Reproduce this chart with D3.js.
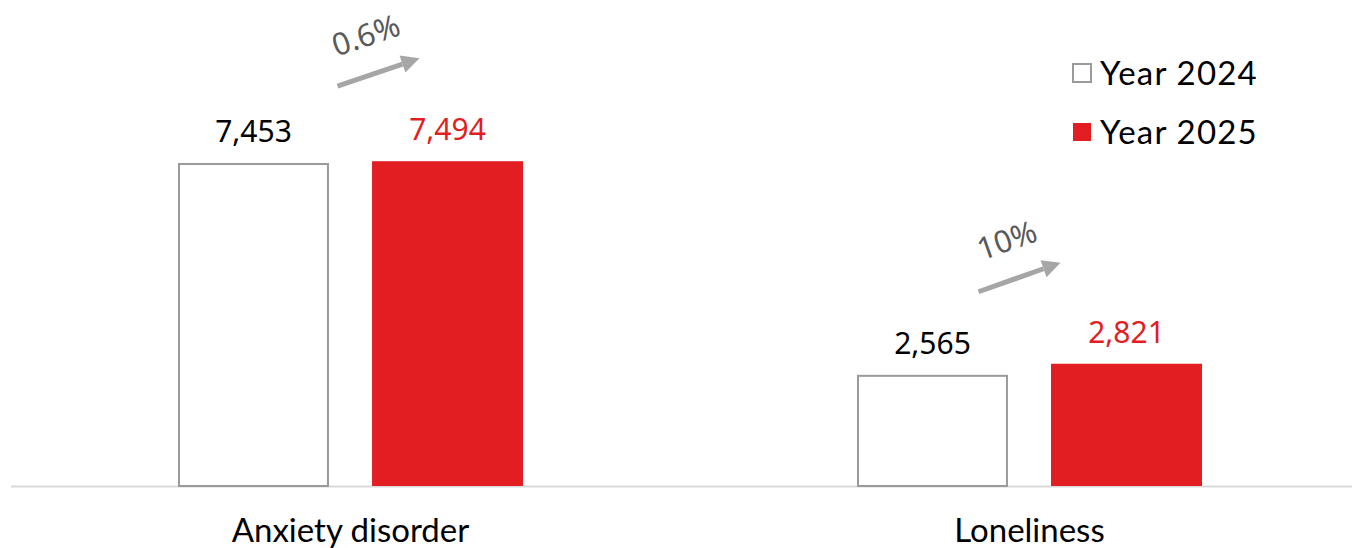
<!DOCTYPE html>
<html><head><meta charset="utf-8">
<script src="https://cdn.jsdelivr.net/npm/d3@7"></script>
<style>html,body{margin:0;padding:0;background:#fff;}svg{display:block;}</style>
</head><body>
<svg id="c" width="1352" height="548"></svg>
<script>
const categories = ["Anxiety disorder", "Loneliness"];
const seriesNames = ["Year 2024", "Year 2025"];
const values2024 = [7453, 2565];
const values2025 = [7494, 2821];
const changeLabels = ["0.6%", "10%"];

const W = 1352, H = 548;
const svg = d3.select("#c");
const baseY = 486;
const y = d3.scaleLinear().domain([0, 8000]).range([baseY, baseY - 8000 * 0.04334]);
const x0 = d3.scaleBand().domain(categories).range([11, 1369]).padding(0);
const x1 = d3.scaleBand().domain(seriesNames).range([0, 345]).paddingInner(0.222).paddingOuter(0);
const groupOff = (x0.bandwidth() - 345) / 2;

const data = categories.map((c, i) => ({cat: c, vals: [values2024[i], values2025[i]]}));
const colors = {"Year 2024": "#ffffff", "Year 2025": "#e21e23"};
const strokes = {"Year 2024": "#9a9a9a", "Year 2025": "none"};
const labelColors = {"Year 2024": "#000000", "Year 2025": "#e21e23"};

// axis baseline
svg.append("line").attr("x1", 11).attr("x2", W).attr("y1", baseY + 0.5).attr("y2", baseY + 0.5)
  .attr("stroke", "#d9d9d9").attr("stroke-width", 2);

const g = svg.selectAll("g.grp").data(data).join("g")
  .attr("transform", d => `translate(${x0(d.cat) + groupOff},0)`);

g.selectAll("rect").data(d => d.vals.map((v, j) => ({s: seriesNames[j], v}))).join("rect")
  .attr("x", d => x1(d.s) + (d.s === "Year 2024" ? 1 : 0))
  .attr("y", d => y(d.v) + (d.s === "Year 2024" ? 1 : 0))
  .attr("width", d => x1.bandwidth() - (d.s === "Year 2024" ? 2 : 0))
  .attr("height", d => baseY - y(d.v) - (d.s === "Year 2024" ? 1 : 0))
  .attr("fill", d => colors[d.s]).attr("stroke", d => strokes[d.s]).attr("stroke-width", 2);

g.selectAll("text.val").data(d => d.vals.map((v, j) => ({s: seriesNames[j], v}))).join("text")
  .attr("class", "val")
  .attr("x", d => x1(d.s) + x1.bandwidth() / 2)
  .attr("y", d => y(d.v) - 21)
  .attr("text-anchor", "middle")
  .attr("font-family", "'Noto Sans', sans-serif").attr("font-size", 30)
  .attr("fill", d => labelColors[d.s])
  .text(d => d3.format(",")(d.v));

// category labels
svg.selectAll("text.cat").data(categories).join("text")
  .attr("class", "cat")
  .attr("x", d => x0(d) + x0.bandwidth() / 2)
  .attr("y", 542)
  .attr("text-anchor", "middle")
  .attr("font-family", "Lato, sans-serif").attr("font-size", 33)
  .attr("fill", "#000").text(d => d);

// change arrows
const arrowOffsets = [[-13, -75, 69, -103], [-51, -72, 31, -101]];
data.forEach((d, i) => {
  const cx = x0(d.cat) + x0.bandwidth() / 2;
  const top = y(d3.max(d.vals));
  const [ax, ay, bx, by] = arrowOffsets[i];
  const x1p = cx + ax, y1p = top + ay, x2p = cx + bx, y2p = top + by;
  const ang = Math.atan2(y2p - y1p, x2p - x1p);
  const headLen = 18, headW = 9;
  const sx = x2p - headLen * Math.cos(ang), sy = y2p - headLen * Math.sin(ang);
  svg.append("line").attr("x1", x1p).attr("y1", y1p).attr("x2", sx).attr("y2", sy)
    .attr("stroke", "#a6a6a6").attr("stroke-width", 5);
  const px = -Math.sin(ang), py = Math.cos(ang);
  svg.append("path")
    .attr("d", `M${x2p},${y2p}L${sx + px * headW},${sy + py * headW}L${sx - px * headW},${sy - py * headW}Z`)
    .attr("fill", "#a6a6a6");
  const mx = (x1p + x2p) / 2 - 13, my = (y1p + y2p) / 2 - 38;
  svg.append("text")
    .attr("transform", `translate(${mx},${my}) rotate(${ang * 180 / Math.PI})`)
    .attr("text-anchor", "middle").attr("dominant-baseline", "central")
    .attr("font-family", "'Noto Sans', sans-serif").attr("font-size", 31)
    .attr("fill", "#595959").text(changeLabels[i]);
});

// legend
const leg = svg.append("g");
seriesNames.forEach((s, i) => {
  const ly = 63 + i * 59;
  leg.append("rect").attr("x", 1073).attr("y", ly + 1).attr("width", 18).attr("height", 18)
    .attr("fill", colors[s]).attr("stroke", strokes[s]).attr("stroke-width", 2);
  leg.append("text").attr("x", 1100).attr("y", ly + 22)
    .attr("font-family", "Lato, sans-serif").attr("font-size", 33)
    .attr("letter-spacing", 1.2)
    .attr("fill", "#000").text(s);
});
</script>
</body></html>
